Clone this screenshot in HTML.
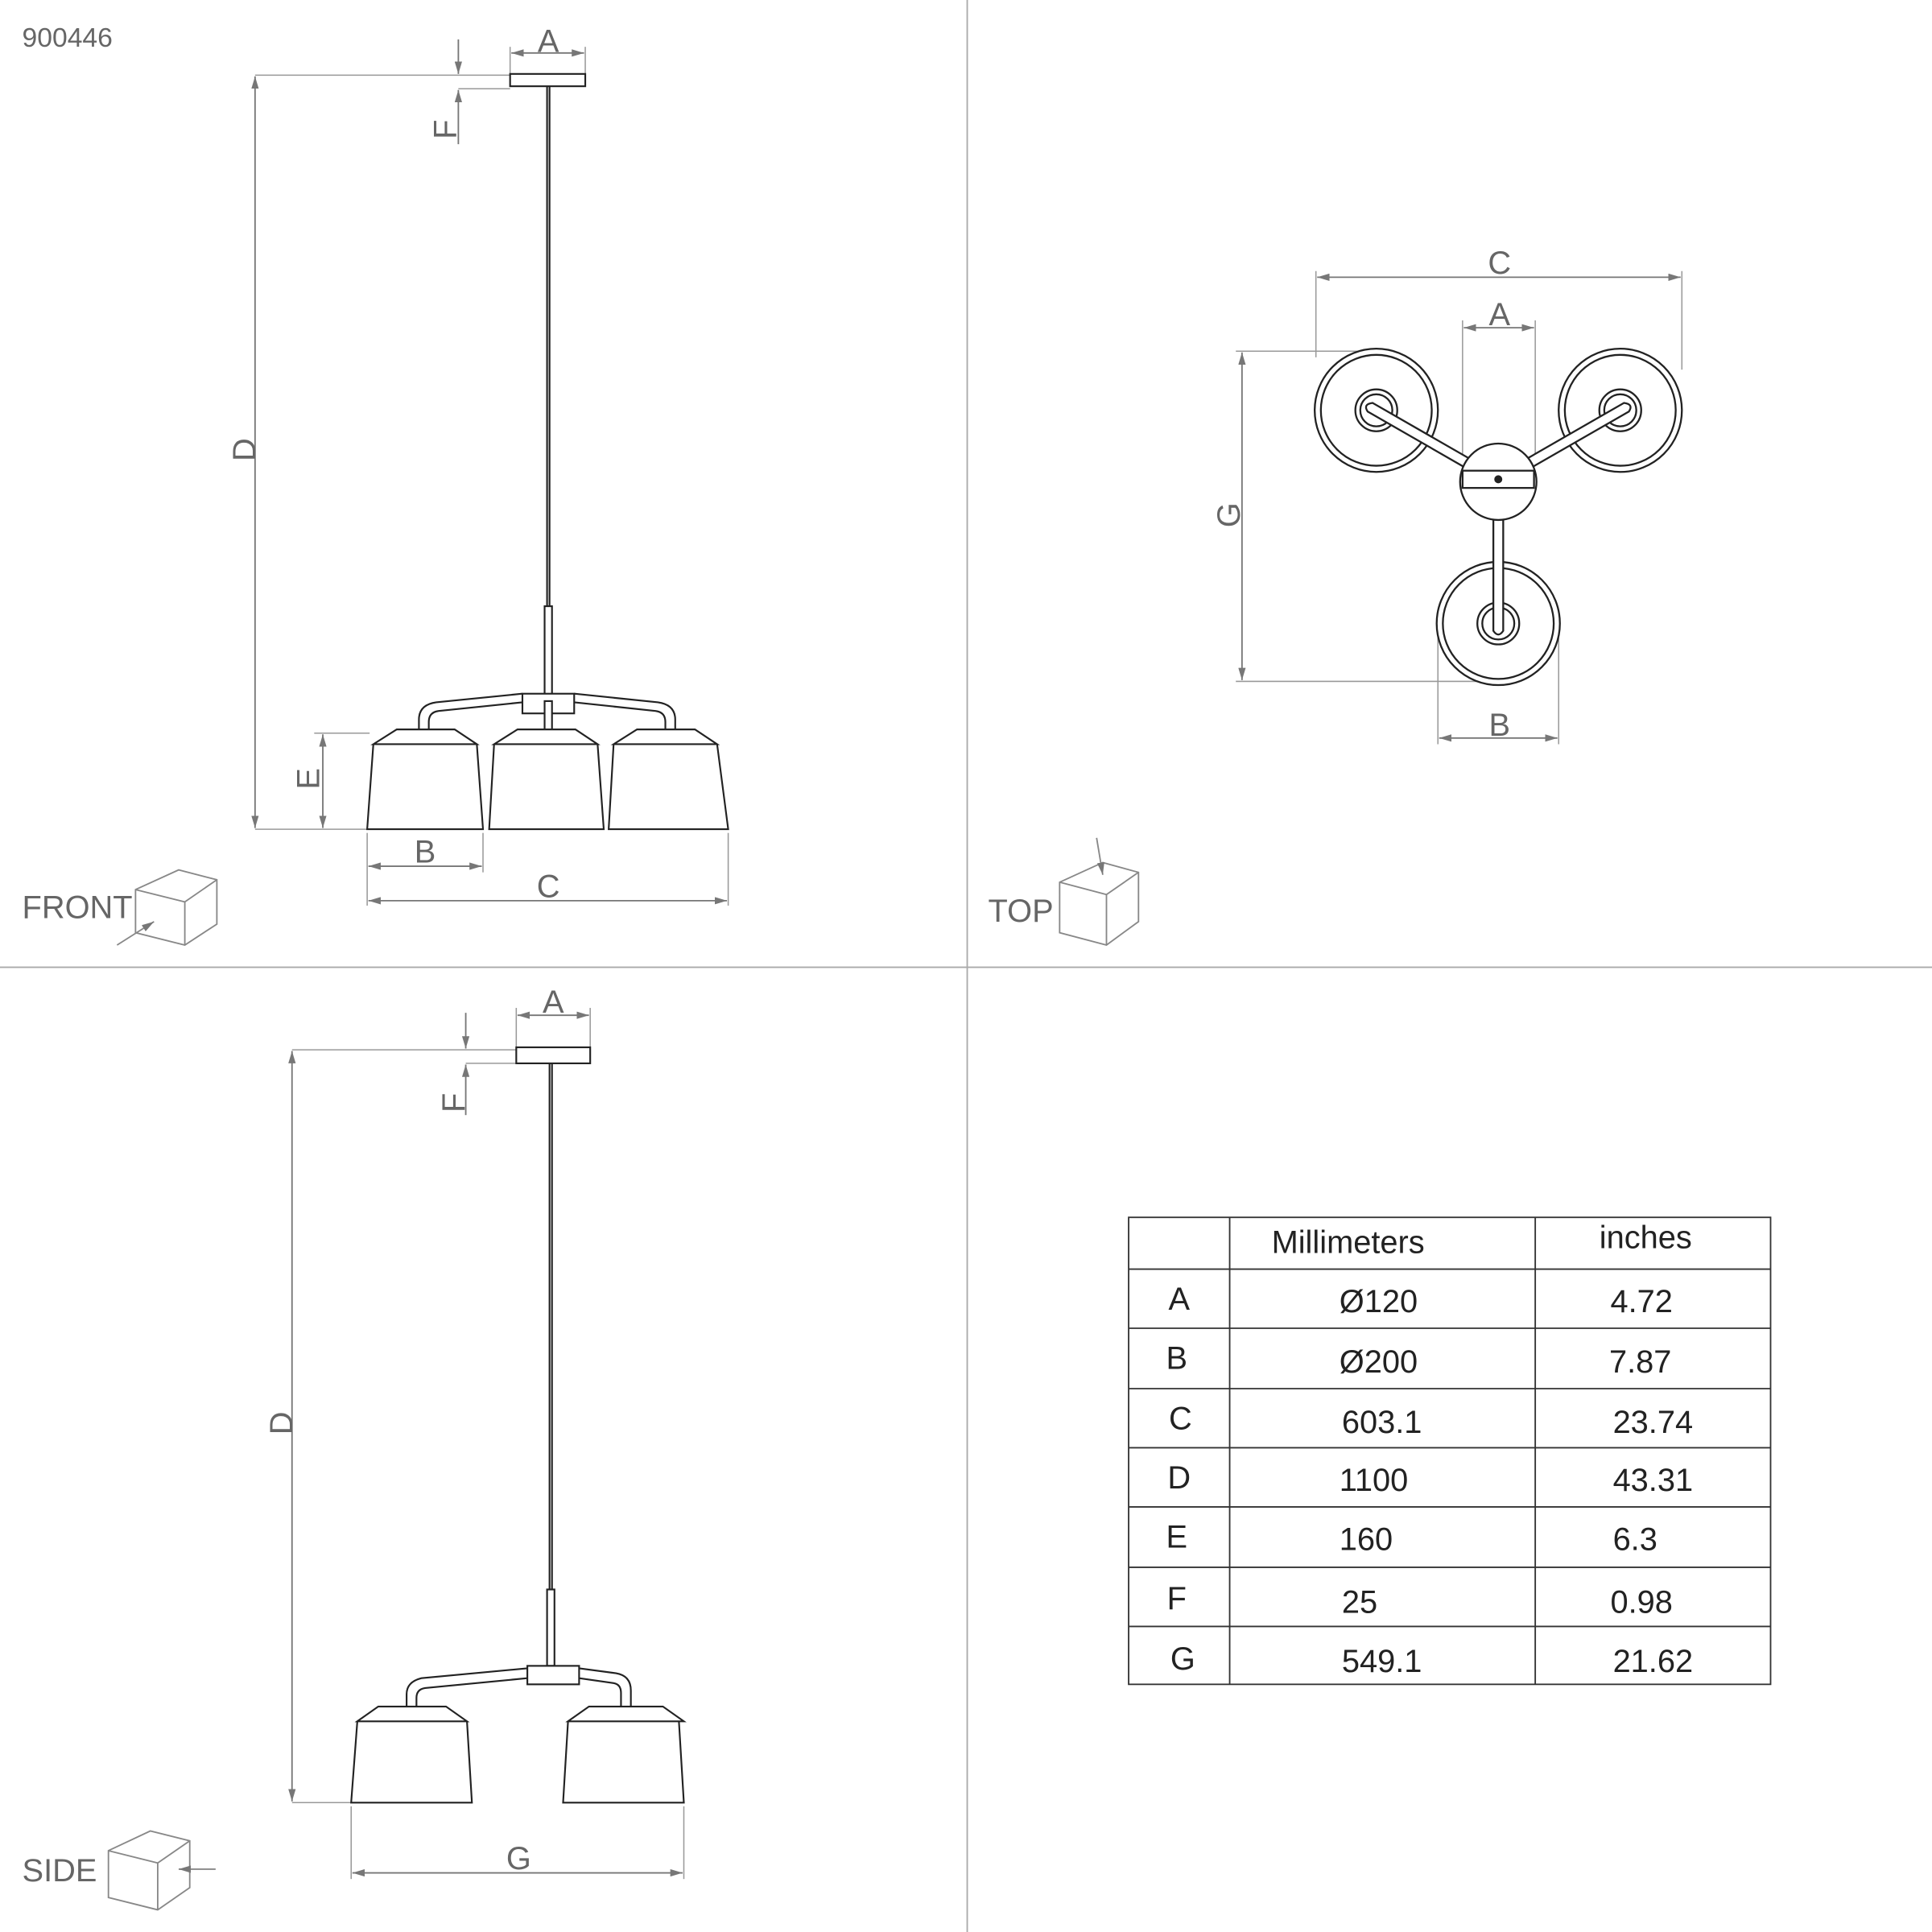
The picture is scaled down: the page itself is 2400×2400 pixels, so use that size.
<!DOCTYPE html>
<html><head><meta charset="utf-8"><style>html,body{margin:0;padding:0;background:#fff}svg{display:block}</style></head><body>
<svg width="2400" height="2400" viewBox="0 0 1568 1568" xmlns="http://www.w3.org/2000/svg" font-family="Liberation Sans, sans-serif">
<defs><marker id="ar" viewBox="0 0 10 6" refX="10" refY="3" markerWidth="10" markerHeight="6" orient="auto-start-reverse" markerUnits="userSpaceOnUse"><path d="M0,0 L10,3 L0,6z" fill="#777"/></marker></defs>
<g stroke="#aaa" stroke-width="1.2"><line x1="785" y1="0" x2="785" y2="1568"/><line x1="0" y1="785" x2="1568" y2="785"/></g>
<text x="18" y="38" font-size="22" fill="#666">900446</text>
<!-- FRONT -->
<g stroke="#999" stroke-width="1" fill="none">
<line x1="207" y1="61" x2="414" y2="61"/><line x1="207" y1="673" x2="298" y2="673"/>
<line x1="372" y1="72" x2="414" y2="72"/><line x1="414" y1="38" x2="414" y2="60"/><line x1="475" y1="38" x2="475" y2="60"/>
<line x1="255" y1="595" x2="300" y2="595"/><line x1="298" y1="676" x2="298" y2="735"/><line x1="392" y1="676" x2="392" y2="708"/><line x1="591" y1="676" x2="591" y2="735"/>
</g>
<g stroke="#777" stroke-width="1.2" marker-start="url(#ar)" marker-end="url(#ar)">
<line x1="207" y1="62" x2="207" y2="672"/><line x1="415" y1="43" x2="474" y2="43"/><line x1="262" y1="596" x2="262" y2="672"/>
<line x1="299" y1="703" x2="391" y2="703"/><line x1="299" y1="731" x2="590" y2="731"/>
</g>
<g stroke="#777" stroke-width="1.2"><line x1="372" y1="32" x2="372" y2="60" marker-end="url(#ar)"/><line x1="372" y1="117" x2="372" y2="73" marker-end="url(#ar)"/></g>
<g fill="#666" font-size="26" text-anchor="middle">
<text x="445" y="42">A</text><text x="345" y="700">B</text><text x="445" y="728">C</text>
<text transform="translate(207,365) rotate(-90)" y="0">D</text><text transform="translate(259,632) rotate(-90)">E</text><text transform="translate(370,105) rotate(-90)">F</text>
</g>
<g stroke="#222" stroke-width="1.4" fill="#fff">
<rect x="414" y="60" width="61" height="10"/><line x1="444" y1="70" x2="444" y2="492"/><line x1="446" y1="70" x2="446" y2="492"/>
<rect x="442" y="492" width="6" height="72"/>
<path d="M340,592 v-8 q0,-12 14,-14 L424,563 M348,592 v-6 q0,-8 8,-9 L424,570 M466,563 L534,570 q14,2 14,14 v8 M466,570 L532,577 q8,1 8,9 v6"/>
<rect x="424" y="563" width="42" height="16"/><rect x="442" y="569" width="6" height="23"/>
<path d="M303,604 L322,592 L369,592 L387,604z M303,604 L298,673 L392,673 L387,604"/>
<path d="M401,604 L420,592 L467,592 L485,604z M401,604 L397,673 L490,673 L485,604"/>
<path d="M498,604 L517,592 L564,592 L582,604z M498,604 L494,673 L591,673 L582,604"/>
</g>
<text x="18" y="745" font-size="26" fill="#666">FRONT</text>
<g stroke="#888" stroke-width="1.2" fill="none"><path d="M110,722 L145,706 L176,714 L176,750 L150,767 L110,757z M110,722 L150,732 L176,714 M150,732 V767"/><path d="M95,767 L125,748" marker-end="url(#ar)"/></g>
<!-- TOP -->
<g stroke="#999" stroke-width="1" fill="none">
<line x1="1068" y1="220" x2="1068" y2="290"/><line x1="1365" y1="220" x2="1365" y2="300"/><line x1="1187" y1="260" x2="1187" y2="375"/><line x1="1246" y1="260" x2="1246" y2="375"/>
<line x1="1003" y1="285" x2="1117" y2="285"/><line x1="1003" y1="553" x2="1216" y2="553"/><line x1="1167" y1="510" x2="1167" y2="604"/><line x1="1265" y1="510" x2="1265" y2="604"/>
</g>
<g stroke="#777" stroke-width="1.2" marker-start="url(#ar)" marker-end="url(#ar)">
<line x1="1069" y1="225" x2="1364" y2="225"/><line x1="1188" y1="266" x2="1245" y2="266"/><line x1="1008" y1="286" x2="1008" y2="552"/><line x1="1168" y1="599" x2="1264" y2="599"/>
</g>
<g fill="#666" font-size="26" text-anchor="middle"><text x="1217" y="222">C</text><text x="1217" y="264">A</text><text x="1217" y="597">B</text><text transform="translate(1006,418) rotate(-90)">G</text></g>
<g stroke="#222" stroke-width="1.5" fill="#fff">
<circle cx="1117" cy="333" r="50"/><circle cx="1117" cy="333" r="45"/>
<circle cx="1315" cy="333" r="50"/><circle cx="1315" cy="333" r="45"/>
<circle cx="1216" cy="506" r="50"/><circle cx="1216" cy="506" r="45"/>
<circle cx="1117" cy="333" r="17"/><circle cx="1117" cy="333" r="13"/>
<circle cx="1315" cy="333" r="17"/><circle cx="1315" cy="333" r="13"/>
<circle cx="1216" cy="506" r="17"/><circle cx="1216" cy="506" r="13"/>
<path d="M1110,334 L1190,380 L1194,373 L1114,327 Q1106,328 1110,334z"/>
<path d="M1322,334 L1242,380 L1238,373 L1318,327 Q1326,328 1322,334z"/>
<path d="M1212,420 V512 Q1216,518 1220,512 V420z"/>
<circle cx="1216" cy="391" r="31"/>
<rect x="1187" y="382" width="58" height="14"/>
<circle cx="1216" cy="389" r="2.5" fill="#222"/>
</g>
<text x="802" y="748" font-size="26" fill="#666">TOP</text>
<g stroke="#888" stroke-width="1.2" fill="none"><path d="M860,716 L895,700 L924,708 L924,748 L898,767 L860,757z M860,716 L898,726 L924,708 M898,726 V767"/><path d="M890,680 L895,710" marker-end="url(#ar)"/></g>
<!-- SIDE -->
<g stroke="#999" stroke-width="1" fill="none">
<line x1="237" y1="852" x2="419" y2="852"/><line x1="237" y1="1463" x2="285" y2="1463"/><line x1="378" y1="863" x2="419" y2="863"/>
<line x1="419" y1="818" x2="419" y2="850"/><line x1="479" y1="818" x2="479" y2="850"/><line x1="285" y1="1466" x2="285" y2="1525"/><line x1="555" y1="1466" x2="555" y2="1525"/>
</g>
<g stroke="#777" stroke-width="1.2" marker-start="url(#ar)" marker-end="url(#ar)">
<line x1="237" y1="853" x2="237" y2="1462"/><line x1="420" y1="824" x2="478" y2="824"/><line x1="286" y1="1520" x2="554" y2="1520"/>
</g>
<g stroke="#777" stroke-width="1.2"><line x1="378" y1="822" x2="378" y2="851" marker-end="url(#ar)"/><line x1="378" y1="905" x2="378" y2="864" marker-end="url(#ar)"/></g>
<g fill="#666" font-size="26" text-anchor="middle"><text x="449" y="822">A</text><text x="421" y="1517">G</text><text transform="translate(237,1155) rotate(-90)">D</text><text transform="translate(377,895) rotate(-90)">F</text></g>
<g stroke="#222" stroke-width="1.4" fill="#fff">
<rect x="419" y="850" width="60" height="13"/><line x1="446" y1="863" x2="446" y2="1290"/><line x1="448" y1="863" x2="448" y2="1290"/>
<rect x="444" y="1290" width="6" height="62"/>
<path d="M330,1385 v-10 q0,-10 12,-13 L428,1354 M338,1385 v-7 q0,-7 7,-8 L428,1362 M470,1354 L500,1358 q12,2 12,14 v13 M470,1362 L498,1366 q6,1 6,8 v11"/>
<rect x="428" y="1352" width="42" height="15"/>
<path d="M290,1397 L307,1385 L362,1385 L379,1397z M290,1397 L285,1463 L383,1463 L379,1397"/>
<path d="M461,1397 L478,1385 L538,1385 L555,1397z M461,1397 L457,1463 L555,1463 L551,1397"/>
</g>
<text x="18" y="1527" font-size="26" fill="#666">SIDE</text>
<g stroke="#888" stroke-width="1.2" fill="none"><path d="M88,1502 L122,1486 L154,1494 L154,1532 L128,1550 L88,1540z M88,1502 L128,1512 L154,1494 M128,1512 V1550"/><path d="M175,1517 L145,1517" marker-end="url(#ar)"/></g>
<!-- TABLE -->
<g stroke="#333" stroke-width="1.2" fill="none">
<rect x="916" y="988" width="521" height="379"/>
<line x1="998" y1="988" x2="998" y2="1367"/><line x1="1246" y1="988" x2="1246" y2="1367"/>
<line x1="916" y1="1030" x2="1437" y2="1030"/><line x1="916" y1="1078" x2="1437" y2="1078"/><line x1="916" y1="1127" x2="1437" y2="1127"/><line x1="916" y1="1175" x2="1437" y2="1175"/><line x1="916" y1="1223" x2="1437" y2="1223"/><line x1="916" y1="1272" x2="1437" y2="1272"/><line x1="916" y1="1320" x2="1437" y2="1320"/>
</g>
<g fill="#222" font-size="26">
<text x="1032" y="1017">Millimeters</text><text x="1298" y="1013">inches</text>
<g text-anchor="middle"><text x="957" y="1063">A</text><text x="955" y="1111">B</text><text x="958" y="1160">C</text><text x="957" y="1208">D</text><text x="955" y="1256">E</text><text x="955" y="1306">F</text><text x="960" y="1355">G</text></g>
<text x="1087" y="1065">Ø120</text><text x="1087" y="1114">Ø200</text><text x="1089" y="1163">603.1</text><text x="1087" y="1210">1100</text><text x="1087" y="1258">160</text><text x="1089" y="1309">25</text><text x="1089" y="1357">549.1</text>
<text x="1307" y="1065">4.72</text><text x="1306" y="1114">7.87</text><text x="1309" y="1163">23.74</text><text x="1309" y="1210">43.31</text><text x="1309" y="1258">6.3</text><text x="1307" y="1309">0.98</text><text x="1309" y="1357">21.62</text>
</g>
</svg>
</body></html>
